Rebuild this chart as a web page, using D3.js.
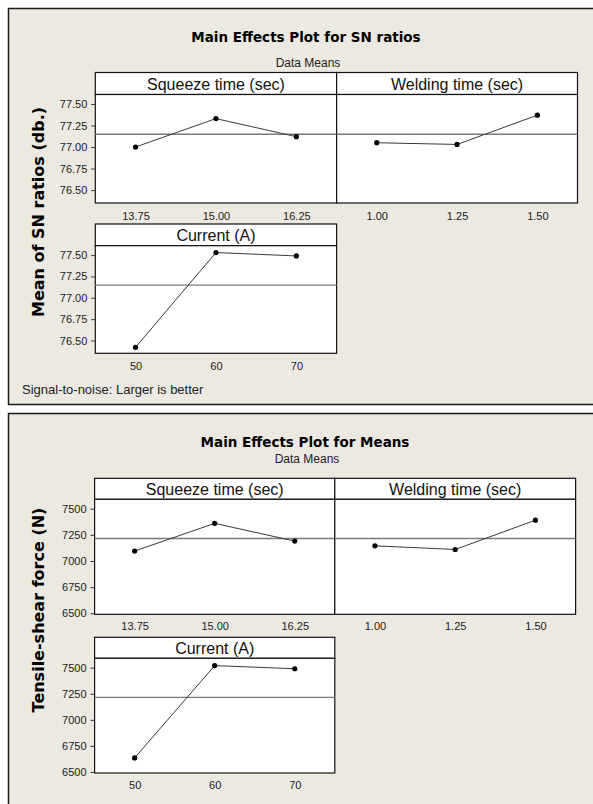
<!DOCTYPE html>
<html>
<head>
<meta charset="utf-8">
<script src="https://cdn.jsdelivr.net/npm/d3@7"></script>
<style>
  html, body { margin: 0; padding: 0; background: #fff; }
  svg { display: block; }
</style>
</head>
<body>
<div id="chart"></div>
<script>
// factor names and levels
var factorNames = ["Squeeze time (sec)", "Welding time (sec)", "Current (A)"];
var squeezeLevels = ["13.75", "15.00", "16.25"];
var weldingLevels = ["1.00", "1.25", "1.50"];
var currentLevels = ["50", "60", "70"];

// SN ratio means (db.)
var snSqueeze = [77.00, 77.33, 77.12];
var snWelding = [77.05, 77.03, 77.37];
var snCurrent = [76.42, 77.53, 77.49];
var snTicks = [76.50, 76.75, 77.00, 77.25, 77.50];

// tensile-shear force means (N)
var forceSqueeze = [7095, 7360, 7190];
var forceWelding = [7145, 7110, 7390];
var forceCurrent = [6635, 7520, 7490];
var forceTicks = [6500, 6750, 7000, 7250, 7500];

var W = 593, H = 804;
var bg = "#ece9e0";
var sans = "'Liberation Sans', Arial, sans-serif";
var bold = "'DejaVu Sans', Verdana, sans-serif";

var svg = d3.select("#chart").append("svg")
  .attr("width", W)
  .attr("height", H);

function drawPanel(p) {
  var g = svg.append("g");

  // outer frame
  g.append("rect")
    .attr("x", 8.5).attr("y", p.top + 0.5)
    .attr("width", 620).attr("height", p.bottom - p.top)
    .attr("fill", bg).attr("stroke", "#1a1a1a").attr("stroke-width", 1.5);

  g.append("text")
    .attr("x", p.titleX).attr("y", p.titleY)
    .attr("text-anchor", "middle").attr("dominant-baseline", "central")
    .style("font-family", bold).style("font-weight", "bold").style("font-size", "13.5px")
    .text(p.title);
  g.append("text")
    .attr("x", p.titleX + 2).attr("y", p.subY)
    .attr("text-anchor", "middle").attr("dominant-baseline", "central")
    .style("font-family", sans).style("font-size", "12px").attr("fill", "#222")
    .text("Data Means");

  g.append("text")
    .attr("transform", "translate(" + p.yTitleX + "," + p.yTitleY + ") rotate(-90)")
    .attr("text-anchor", "middle").attr("dominant-baseline", "central")
    .style("font-family", bold).style("font-weight", "bold").style("font-size", "16px")
    .text(p.yTitle);

  var facets = [
    {name: factorNames[0], levels: squeezeLevels, values: p.values[0], x0: p.left, x1: p.mid, row: 0},
    {name: factorNames[1], levels: weldingLevels, values: p.values[1], x0: p.mid, x1: p.right, row: 0},
    {name: factorNames[2], levels: currentLevels, values: p.values[2], x0: p.left, x1: p.mid, row: 1}
  ];

  facets.forEach(function(f, i) {
    var r = p.rows[f.row];
    var x = d3.scalePoint().domain(f.levels).range([f.x0, f.x1]).padding(0.5);
    var y = d3.scaleLinear().domain(p.domain).range([r.plotBottom, r.headTop + r.headH]);
    var plotTop = r.headTop + r.headH;

    // header strip
    g.append("rect")
      .attr("x", f.x0).attr("y", r.headTop)
      .attr("width", f.x1 - f.x0).attr("height", r.headH)
      .attr("fill", "#fff").attr("stroke", "#111").attr("stroke-width", 1.2);
    g.append("text")
      .attr("x", (f.x0 + f.x1) / 2).attr("y", r.headTop + r.headH / 2 + 1)
      .attr("text-anchor", "middle").attr("dominant-baseline", "central")
      .style("font-family", sans).style("font-size", "16px").attr("fill", "#111")
      .text(f.name);

    // plot area
    g.append("rect")
      .attr("x", f.x0).attr("y", plotTop)
      .attr("width", f.x1 - f.x0).attr("height", r.plotBottom - plotTop)
      .attr("fill", "#fff").attr("stroke", "#111").attr("stroke-width", 1.2);

    // grand mean reference line
    var mean = d3.mean(p.values.flat());
    g.append("line")
      .attr("x1", f.x0).attr("x2", f.x1)
      .attr("y1", y(mean)).attr("y2", y(mean))
      .attr("stroke", "#7a7a7a").attr("stroke-width", 1.4);

    // x labels (no tick marks)
    var xAxis = g.append("g")
      .attr("transform", "translate(0," + r.plotBottom + ")")
      .call(d3.axisBottom(x).tickSize(0).tickPadding(r.labelGap));
    xAxis.select(".domain").remove();
    xAxis.selectAll("text")
      .style("font-family", sans).style("font-size", "11px").attr("fill", "#222");

    // y axis only on the left column
    if (f.x0 === p.left) {
      var yAxis = g.append("g")
        .attr("transform", "translate(" + f.x0 + ",0)")
        .call(d3.axisLeft(y).tickValues(p.ticks).tickFormat(p.fmt).tickSize(4).tickPadding(4));
      yAxis.select(".domain").remove();
      yAxis.selectAll("line").attr("stroke", "#333");
      yAxis.selectAll("text")
        .style("font-family", sans).style("font-size", "11px").attr("fill", "#222");
    }

    var line = d3.line()
      .x(function(d, k) { return x(f.levels[k]); })
      .y(function(d) { return y(d); });
    g.append("path")
      .datum(f.values)
      .attr("d", line)
      .attr("fill", "none").attr("stroke", "#3a3a3a").attr("stroke-width", 1);
    g.selectAll(".pt" + i)
      .data(f.values)
      .enter().append("circle")
      .attr("cx", function(d, k) { return x(f.levels[k]); })
      .attr("cy", function(d) { return y(d); })
      .attr("r", 2.6)
      .attr("fill", "#000");
  });

  if (p.note) {
    g.append("text")
      .attr("x", 22).attr("y", p.noteY)
      .attr("dominant-baseline", "central")
      .style("font-family", sans).style("font-size", "13px").attr("fill", "#222")
      .text(p.note);
  }
}

drawPanel({
  top: 8, bottom: 404,
  title: "Main Effects Plot for SN ratios", titleX: 306, titleY: 37, subY: 63,
  yTitle: "Mean of SN ratios (db.)", yTitleX: 38, yTitleY: 212,
  left: 95.3, mid: 336.6, right: 577.5,
  rows: [
    {headTop: 72.5, headH: 22, plotBottom: 203, labelGap: 9},
    {headTop: 224, headH: 21.7, plotBottom: 353.3, labelGap: 9}
  ],
  domain: [76.35, 77.61],
  ticks: snTicks, fmt: d3.format(".2f"),
  values: [snSqueeze, snWelding, snCurrent],
  note: "Signal-to-noise: Larger is better", noteY: 389
});

drawPanel({
  top: 413, bottom: 830,
  title: "Main Effects Plot for Means", titleX: 305, titleY: 441.7, subY: 459.3,
  yTitle: "Tensile-shear force (N)", yTitleX: 38, yTitleY: 610,
  left: 94.6, mid: 334.8, right: 575.6,
  rows: [
    {headTop: 478.3, headH: 21, plotBottom: 614.3, labelGap: 8},
    {headTop: 637.3, headH: 21, plotBottom: 773, labelGap: 8}
  ],
  domain: [6490, 7590],
  ticks: forceTicks, fmt: d3.format("d"),
  values: [forceSqueeze, forceWelding, forceCurrent],
  note: null
});
</script>
</body>
</html>
